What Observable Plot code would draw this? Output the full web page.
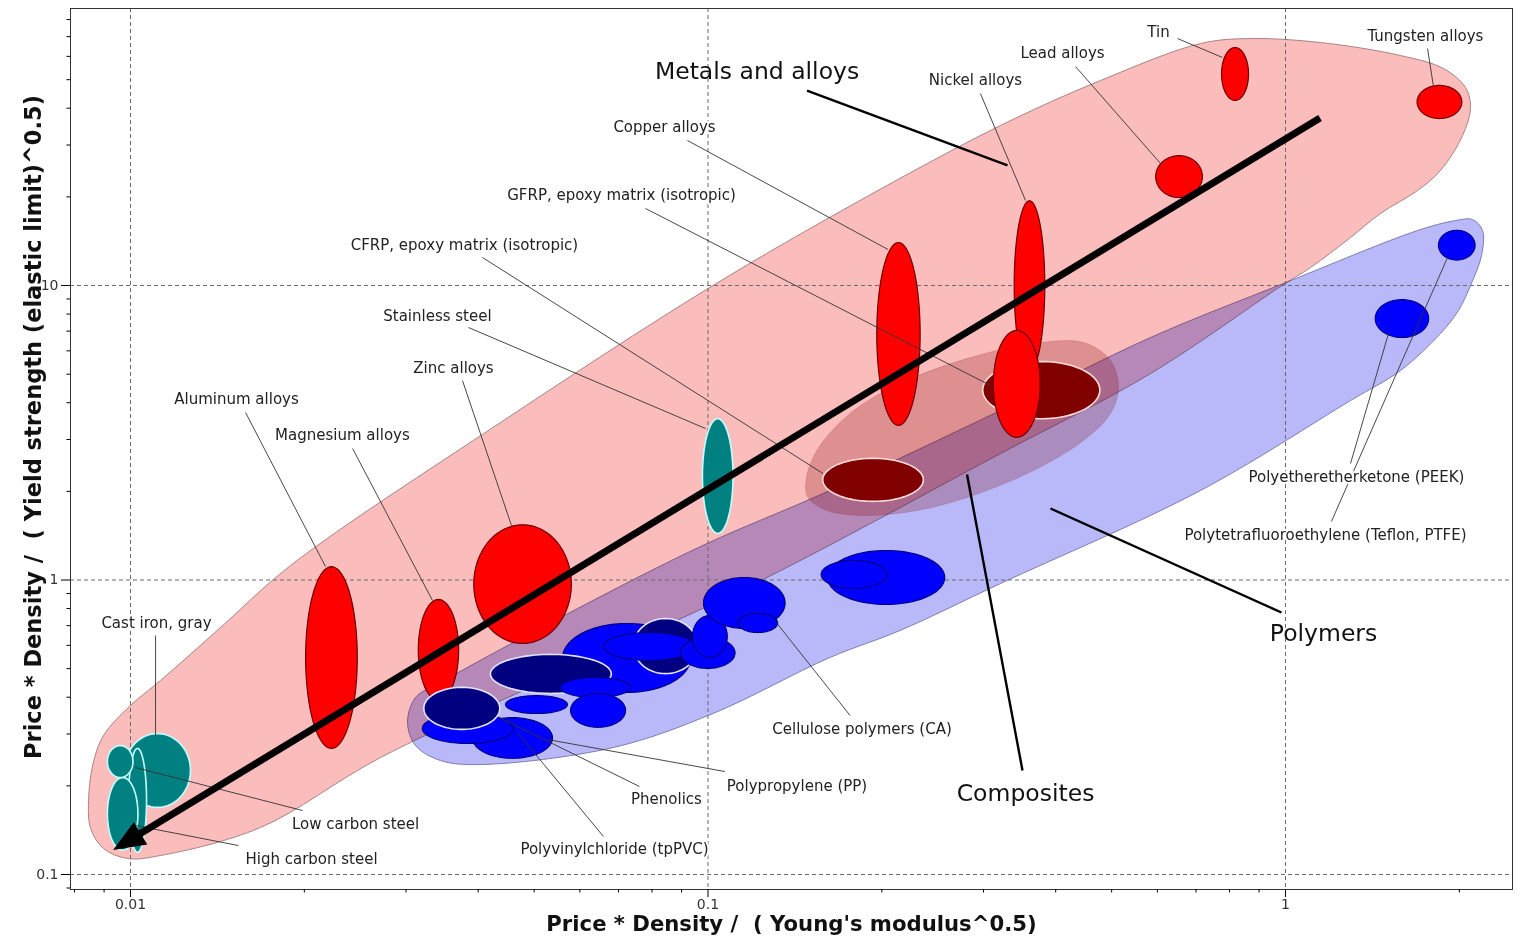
<!DOCTYPE html>
<html><head><meta charset="utf-8">
<script src="https://cdn.jsdelivr.net/npm/d3@7"></script>
<script src="https://cdn.jsdelivr.net/npm/@observablehq/plot@0.6"></script>
<style>html,body{margin:0;padding:0;background:#fff;overflow:hidden}</style>
</head><body><div id="chart"></div>
<script>
// ---------- DATA ----------
// family envelopes (outline points, [x, y])
const envMetals = [[0.00846,0.1784],[0.00860,0.2345],[0.00898,0.2965],[0.0100,0.375],[0.01127,0.4557],[0.01432,0.690],[0.01893,1.120],[0.04372,3.426],[0.100,9.768],[0.1833,19.44],[0.321,34.94],[0.4783,49.67],[0.7125,66.33],[0.870,68.97],[1.150,66.85],[1.582,60.39],[1.877,54.56],[2.050,47.03],[2.091,40.22],[2.026,32.31],[1.855,24.58],[1.693,21.02],[1.460,17.56],[1.296,14.55],[1.105,11.51],[0.992,10.08],[0.5839,5.025],[0.321,2.689],[0.1265,1.020],[0.06515,0.5542],[0.0271,0.2496],[0.01679,0.1444],[0.01127,0.1160],[0.00988,0.1133],[0.00898,0.1226],[0.00853,0.1433]];
const envPolymers = [[0.03018,0.3283],[0.03115,0.399],[0.03441,0.4487],[0.05554,0.7459],[0.09706,1.299],[0.1626,2.013],[0.321,3.763],[0.5839,6.659],[0.992,10.16],[1.693,15.37],[1.970,16.62],[2.108,16.75],[2.194,15.37],[2.185,12.64],[2.091,10.0],[1.993,8.225],[1.855,6.871],[1.582,5.145],[1.296,4.069],[0.7125,2.013],[0.321,0.973],[0.215,0.6738],[0.1626,0.5456],[0.102,0.3521],[0.06861,0.270],[0.04037,0.2363],[0.03441,0.2438],[0.03115,0.2742]];
const envComposites = [[0.1478,2.177],[0.1544,2.753],[0.1762,3.677],[0.215,4.648],[0.2809,5.65],[0.3662,6.355],[0.4469,6.405],[0.4977,5.564],[0.5138,4.505],[0.4977,3.677],[0.4469,2.976],[0.3662,2.354],[0.2809,1.906],[0.2301,1.722],[0.1885,1.656],[0.1608,1.722],[0.149,1.906]];

// material bubbles: property ranges  x = [min, max], y = [min, max]
const compositeBubbles = [
  {name: "GFRP, epoxy matrix (isotropic)", x: [0.299, 0.477], y: [3.53, 5.52]},
  {name: "CFRP, epoxy matrix (isotropic)", x: [0.158, 0.236], y: [1.85, 2.59]}
];
const metalBubbles = [
  {name: "Nickel alloys", x: [0.339, 0.383], y: [5.15, 19.4]},
  {name: "Titanium alloys", x: [0.312, 0.376], y: [3.05, 7.04]},
  {name: "Copper alloys", x: [0.196, 0.233], y: [3.35, 14.0]},
  {name: "Tin", x: [0.775, 0.863], y: [42.5, 64.3]},
  {name: "Tungsten alloys", x: [1.69, 2.02], y: [36.9, 47.8]},
  {name: "Lead alloys", x: [0.596, 0.718], y: [19.9, 27.6]},
  {name: "Zinc alloys", x: [0.0393, 0.058], y: [0.609, 1.54]},
  {name: "Aluminum alloys", x: [0.0201, 0.0247], y: [0.268, 1.11]},
  {name: "Magnesium alloys", x: [0.0315, 0.037], y: [0.39, 0.859]}
];
const ferrousBubbles = [
  {name: "Stainless steel", x: [0.0978, 0.1105], y: [1.44, 3.53]},
  {name: "Cast iron, gray", x: [0.00976, 0.0127], y: [0.169, 0.301]},
  {name: "Medium carbon steel", x: [0.00992, 0.01066], y: [0.119, 0.268]},
  {name: "High carbon steel", x: [0.00912, 0.0103], y: [0.121, 0.2135]},
  {name: "Low carbon steel", x: [0.00912, 0.0101], y: [0.2135, 0.274]}
];
const polymerBubbles = [
  {name: "Polypropylene (PP)", x: [0.0391, 0.0538], y: [0.248, 0.341], dark: false},
  {name: "Polyvinylchloride (tpPVC)", x: [0.032, 0.046], y: [0.2785, 0.352], dark: false},
  {name: "Phenolics", x: [0.0322, 0.0436], y: [0.311, 0.432], dark: true},
  {name: "polymer g", x: [0.056, 0.0933], y: [0.415, 0.712], dark: false},
  {name: "polymer c", x: [0.042, 0.068], y: [0.412, 0.559], dark: true},
  {name: "polymer f", x: [0.0555, 0.0734], y: [0.399, 0.467], dark: false},
  {name: "polymer d", x: [0.0446, 0.0571], y: [0.352, 0.405], dark: false},
  {name: "polymer e", x: [0.0578, 0.072], y: [0.316, 0.412], dark: false},
  {name: "polymer i", x: [0.0743, 0.0959], y: [0.481, 0.740], dark: true},
  {name: "polymer h", x: [0.0659, 0.0952], y: [0.533, 0.663], dark: false},
  {name: "polymer j", x: [0.0896, 0.1114], y: [0.501, 0.638], dark: false},
  {name: "polymer k", x: [0.094, 0.108], y: [0.546, 0.758], dark: false},
  {name: "polymer l", x: [0.0982, 0.136], y: [0.6845, 1.02], dark: false},
  {name: "Cellulose polymers (CA)", x: [0.1127, 0.132], y: [0.663, 0.770], dark: false},
  {name: "polymer n", x: [0.161, 0.257], y: [0.826, 1.26], dark: false},
  {name: "polymer o", x: [0.157, 0.204], y: [0.936, 1.165], dark: false},
  {name: "Polyetheretherketone (PEEK)", x: [1.43, 1.77], y: [6.66, 8.96], dark: false},
  {name: "Polytetrafluoroethylene (Teflon, PTFE)", x: [1.84, 2.13], y: [12.2, 15.4], dark: false}
];

// labels: text position and leader line (x1,y1) -> (x2,y2)
const materialLabels = [
  {text: "Tin", x: 0.6028, y: 72.31, x1: 0.6501, y1: 68.97, x2: 0.7778, y2: 59.47},
  {text: "Lead alloys", x: 0.4111, y: 61.35, x1: 0.4329, y1: 55.42, x2: 0.6076, y2: 25.96},
  {text: "Tungsten alloys", x: 1.747, y: 70.06, x1: 1.762, y1: 63.8, x2: 1.804, y2: 47.4},
  {text: "Nickel alloys", x: 0.2905, y: 49.67, x1: 0.2963, y1: 44.87, x2: 0.3547, y2: 19.44},
  {text: "Copper alloys", x: 0.08408, y: 34.39, x1: 0.09215, y1: 31.08, x2: 0.205, y2: 13.25},
  {text: "GFRP, epoxy matrix (isotropic)", x: 0.07084, y: 20.21, x1: 0.07795, y1: 18.26, x2: 0.3084, y2: 4.576},
  {text: "CFRP, epoxy matrix (isotropic)", x: 0.03787, y: 13.67, x1: 0.04069, y1: 12.45, x2: 0.1582, y2: 2.299},
  {text: "Stainless steel", x: 0.034, y: 7.848, x1: 0.03848, y1: 7.202, x2: 0.099, y2: 3.269},
  {text: "Zinc alloys", x: 0.03625, y: 5.226, x1: 0.03757, y1: 4.758, x2: 0.04568, y2: 1.531},
  {text: "Aluminum alloys", x: 0.01526, y: 4.101, x1: 0.01582, y1: 3.706, x2: 0.02176, y2: 1.111},
  {text: "Magnesium alloys", x: 0.02328, y: 3.095, x1: 0.02424, y1: 2.796, x2: 0.03334, y2: 0.852},
  {text: "Cast iron, gray", x: 0.01109, y: 0.7118, x1: 0.01105, y1: 0.6478, x2: 0.01105, y2: 0.2965},
  {text: "Low carbon steel", x: 0.02453, y: 0.1478, x1: 0.0102, y1: 0.2308, x2: 0.01986, y2: 0.1649},
  {text: "High carbon steel", x: 0.02058, y: 0.1124, x1: 0.0102, y1: 0.1467, x2: 0.01538, y2: 0.1254},
  {text: "Cellulose polymers (CA)", x: 0.1848, y: 0.3108, x1: 0.1317, y1: 0.7118, x2: 0.1762, y2: 0.3467},
  {text: "Polypropylene (PP)", x: 0.1426, y: 0.199, x1: 0.05274, y1: 0.2873, x2: 0.107, y2: 0.2237},
  {text: "Phenolics", x: 0.08475, y: 0.1798, x1: 0.04355, y1: 0.3413, x2: 0.07609, y2: 0.199},
  {text: "Polyvinylchloride (tpPVC)", x: 0.06888, y: 0.1216, x1: 0.04679, y1: 0.3035, x2: 0.06592, y2: 0.1346},
  {text: "Polyetheretherketone (PEEK)", x: 1.327, y: 2.229, x1: 1.296, y1: 2.486, x2: 1.508, y2: 6.871},
  {text: "Polytetrafluoroethylene (Teflon, PTFE)", x: 1.173, y: 1.416, x1: 1.201, y1: 1.58, x2: 1.908, y2: 12.45}
];
const familyLabels = [
  {text: "Metals and alloys", x: 0.1216, y: 53.31, x1: 0.1484, y1: 45.94, x2: 0.3301, y2: 25.56},
  {text: "Polymers", x: 1.164, y: 0.6581, x1: 0.3917, y1: 1.749, x2: 0.9842, y2: 0.7757},
  {text: "Composites", x: 0.3547, y: 0.1884, x1: 0.2809, y1: 2.282, x2: 0.3504, y2: 0.2255}
];
const trendArrow = [{x1: 1.150, y1: 36.9, x2: 0.00935, y2: 0.1206}];

const xMajor = [0.01, 0.1, 1];
const xMinor = [0.008, 0.009, 0.02, 0.03, 0.04, 0.05, 0.06, 0.07, 0.08, 0.09, 0.2, 0.3, 0.4, 0.5, 0.6, 0.7, 0.8, 0.9, 2];
const yMajor = [0.1, 1, 10];
const yMinor = [0.09, 0.2, 0.3, 0.4, 0.5, 0.6, 0.7, 0.8, 0.9, 2, 3, 4, 5, 6, 7, 8, 9, 20, 30, 40, 50, 60, 70, 80];
const xTickLabels = ["0.01", "0.1", "1"];
const yTickLabels = ["0.1", "1", "10"];
const xTitle = "Price * Density /\u00a0 ( Young's modulus^0.5)";
const yTitle = "Price * Density /\u00a0 ( Yield strength (elastic limit)^0.5)";

// ---------- DRAWING ----------
const FONT = "DejaVu Sans";
function ellipsePoints(b, n = 96) {
  const lx0 = Math.log10(b.x[0]), lx1 = Math.log10(b.x[1]);
  const ly0 = Math.log10(b.y[0]), ly1 = Math.log10(b.y[1]);
  const cx = (lx0 + lx1) / 2, rx = (lx1 - lx0) / 2, cy = (ly0 + ly1) / 2, ry = (ly1 - ly0) / 2;
  return d3.range(n).map(i => {
    const t = 2 * Math.PI * i / n;
    return {x: 10 ** (cx + rx * Math.cos(t)), y: 10 ** (cy + ry * Math.sin(t))};
  });
}
const styles = {
  metal: {fill: "#ff0000", stroke: "#6e0000", strokeWidth: 1.2},
  ferrous: {fill: "#008080", stroke: "#c4ffff", strokeWidth: 1.6},
  composite: {fill: "#800000", stroke: "#ffdcdc", strokeWidth: 1.6},
  polymer: {fill: "#0000ff", stroke: "#000078", strokeWidth: 1.1},
  polymerDark: {fill: "#000080", stroke: "#e4e4ff", strokeWidth: 1.6}
};
const bubble = (b, st) => Plot.line(ellipsePoints(b), {x: "x", y: "y", curve: "linear-closed", ...st});
const env = (pts, st) => Plot.line(pts, {x: d => d[0], y: d => d[1], curve: "catmull-rom-closed", ...st});

function arrowMark(data) {
  return (index, scales) => {
    const g = d3.create("svg:g");
    for (const a of data) {
      const x1 = scales.x(a.x1), y1 = scales.y(a.y1), x2 = scales.x(a.x2), y2 = scales.y(a.y2);
      const ang = Math.atan2(y2 - y1, x2 - x1), c = Math.cos(ang), s = Math.sin(ang);
      const L = 32, W = 13;
      const bx = x2 - L * c, by = y2 - L * s;
      g.append("line").attr("x1", x1).attr("y1", y1).attr("x2", bx + 3 * c).attr("y2", by + 3 * s)
        .attr("stroke", "#000").attr("stroke-width", 7);
      g.append("path").attr("d", `M${x2},${y2}L${bx - W * s},${by + W * c}L${bx + W * s},${by - W * c}Z`).attr("fill", "#000");
    }
    return g.node();
  };
}

const marks = [
  env(envMetals, {fill: "#fbbcbc", stroke: "#a88484", strokeWidth: 1}),
  env(envPolymers, {fill: "#b9b9fa", stroke: "#7c7cb4", strokeWidth: 1, mixBlendMode: "multiply"}),
  env(envComposites, {fill: "#800000", fillOpacity: 0.24, stroke: "#800000", strokeOpacity: 0.15, strokeWidth: 1}),
  Plot.gridX(xMajor, {stroke: "#6a6a6a", strokeOpacity: 1, strokeDasharray: "4,3", strokeWidth: 1}),
  Plot.gridY(yMajor, {stroke: "#6a6a6a", strokeOpacity: 1, strokeDasharray: "4,3", strokeWidth: 1}),
  ...compositeBubbles.map(b => bubble(b, styles.composite)),
  ...metalBubbles.map(b => bubble(b, styles.metal)),
  ...ferrousBubbles.map(b => bubble(b, styles.ferrous)),
  ...polymerBubbles.map(b => bubble(b, b.dark ? styles.polymerDark : styles.polymer)),
  Plot.link(materialLabels, {x1: "x1", y1: "y1", x2: "x2", y2: "y2", stroke: "#333", strokeWidth: 0.9}),
  Plot.text(materialLabels, {x: "x", y: "y", text: "text", fontSize: 15, fontFamily: FONT, fill: "#222", stroke: "white", strokeWidth: 4}),
  Plot.link(familyLabels, {x1: "x1", y1: "y1", x2: "x2", y2: "y2", stroke: "#000", strokeWidth: 2.4}),
  Plot.text(familyLabels, {x: "x", y: "y", text: "text", fontSize: 23.5, fontFamily: FONT, fill: "#111"}),
  arrowMark(trendArrow),
  Plot.frame({stroke: "#333", strokeWidth: 1}),
  Plot.axisX(xMajor, {tickSize: 8, tickFormat: () => "", label: null}),
  Plot.axisX(xMinor, {tickSize: 3.5, tickFormat: () => "", label: null}),
  Plot.axisY(yMajor, {tickSize: 9, tickFormat: () => "", label: null}),
  Plot.axisY(yMinor, {tickSize: 3.5, tickFormat: () => "", label: null}),
  Plot.text(xMajor, {x: d => d, frameAnchor: "bottom", dy: 19, text: (d, i) => xTickLabels[i], textAnchor: "middle", fontSize: 14, fontFamily: FONT, fill: "#333"}),
  Plot.text(yMajor, {y: d => d, frameAnchor: "left", dx: -12, text: (d, i) => yTickLabels[i], textAnchor: "end", fontSize: 14, fontFamily: FONT, fill: "#333"}),
  Plot.text([xTitle], {frameAnchor: "bottom", dy: 41, text: d => d, textAnchor: "middle", fontSize: 21.2, fontWeight: "bold", fontFamily: FONT, fill: "#111"}),
  Plot.text([yTitle], {frameAnchor: "left", dx: -37, dy: -22, rotate: -90, text: d => d, textAnchor: "middle", fontSize: 22.5, fontWeight: "bold", fontFamily: FONT, fill: "#111"})
];

const chart = Plot.plot({
  width: 1520, height: 947,
  marginLeft: 70, marginRight: 8, marginTop: 8, marginBottom: 58,
  x: {type: "log", domain: [0.007872, 2.4723], axis: null},
  y: {type: "log", domain: [0.08894, 87.23], axis: null},
  style: {fontFamily: FONT, fontSize: "14px", background: "white", overflow: "visible"},
  marks
});
document.getElementById("chart").appendChild(chart);
</script></body></html>
